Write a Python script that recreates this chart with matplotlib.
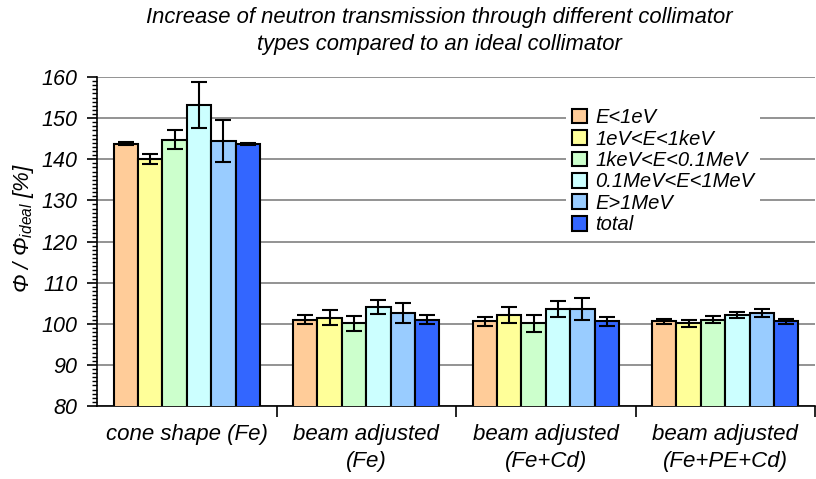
import numpy as np
import matplotlib.pyplot as plt
from matplotlib.ticker import MultipleLocator

plt.rcParams['font.family'] = 'Liberation Sans'
plt.rcParams['mathtext.fontset'] = 'custom'
plt.rcParams['mathtext.rm'] = 'Liberation Sans:italic'
plt.rcParams['mathtext.it'] = 'Liberation Sans:italic'

categories = ['cone shape (Fe)', 'beam adjusted\n(Fe)', 'beam adjusted\n(Fe+Cd)', 'beam adjusted\n(Fe+PE+Cd)']
series = ['E<1eV', '1eV<E<1keV', '1keV<E<0.1MeV', '0.1MeV<E<1MeV', 'E>1MeV', 'total']
colors = ['#FFCC99', '#FFFF99', '#CCFFCC', '#CCFFFF', '#99CCFF', '#3366FF']

# values per series, one entry per category
e_low = [143.8, 101.0, 100.6, 100.6]
e_ev_kev = [140.0, 101.5, 102.1, 100.1]
e_kev_mev = [144.8, 100.1, 100.1, 101.0]
e_mev = [153.2, 104.0, 103.6, 102.1]
e_high = [144.4, 102.6, 103.6, 102.6]
total = [143.8, 101.0, 100.6, 100.6]

err_low = [0.4, 1.05, 1.05, 0.55]
err_ev_kev = [1.2, 1.8, 1.95, 0.8]
err_kev_mev = [2.4, 1.75, 2.0, 0.77]
err_mev = [5.6, 1.75, 2.0, 0.8]
err_high = [5.1, 2.4, 2.7, 1.05]
err_total = [0.25, 1.05, 1.05, 0.55]

values = [e_low, e_ev_kev, e_kev_mev, e_mev, e_high, total]
errors = [err_low, err_ev_kev, err_kev_mev, err_mev, err_high, err_total]

fig = plt.figure(figsize=(8.16, 4.79), dpi=100)
ax = fig.add_axes([97/816, 1-406/479, 718/816, 329/479])

x = np.arange(len(categories))
w = 0.136
for i in range(len(series)):
    pos = x + (i - 2.5) * w
    ax.bar(pos, values[i], width=w, bottom=0, color=colors[i], edgecolor='black',
           linewidth=1.5, label=series[i], zorder=3)
    ax.errorbar(pos, values[i], yerr=errors[i], fmt='none', ecolor='black',
                elinewidth=1.5, capsize=5.5, capthick=1.5, zorder=4)

ax.set_xlim(-0.5, 3.5)
ax.set_ylim(80, 160)
ax.yaxis.set_major_locator(MultipleLocator(10))
ax.yaxis.set_minor_locator(MultipleLocator(1))
ax.grid(axis='y', color='#808080', linewidth=1.2, zorder=0)
for s in ['top', 'right']:
    ax.spines[s].set_visible(False)
ax.spines['left'].set_linewidth(1.2)
ax.spines['bottom'].set_linewidth(1.2)

ax.tick_params(axis='y', which='major', length=7, width=1.2, labelsize=15.5, pad=7)
ax.tick_params(axis='y', which='minor', length=3.5, width=1)
for lab in ax.get_yticklabels():
    lab.set_fontstyle('italic')

ax.set_xticks([0.5, 1.5, 2.5, 3.5])
ax.set_xticklabels([])
ax.tick_params(axis='x', which='major', length=8, width=1.2)
for i, c in enumerate(categories):
    ax.text(i, -0.055, c, transform=ax.get_xaxis_transform(), ha='center', va='top',
            fontsize=16, fontstyle='italic', linespacing=1.4)

ax.set_ylabel(r'$\Phi$ / $\Phi_{ideal}$ [%]', fontsize=16, fontstyle='italic')
ax.yaxis.set_label_coords(-0.085, 0.54)

fig.text(439/816, 0.985, 'Increase of neutron transmission through different collimator\ntypes compared to an ideal collimator',
         ha='center', va='top', fontsize=15.8, fontstyle='italic', linespacing=1.35)

leg = ax.legend(loc='upper left', bbox_to_anchor=(556/816, 1-92/479), bbox_transform=fig.transFigure,
                frameon=True, fancybox=False, edgecolor='none', facecolor='white', framealpha=1,
                handlelength=0.75, handleheight=0.75, handletextpad=0.4, labelspacing=0.12,
                borderpad=0.3, prop={'size': 14.5, 'style': 'italic'})
leg.set_zorder(5)

fig.savefig('out.png', dpi=100)
